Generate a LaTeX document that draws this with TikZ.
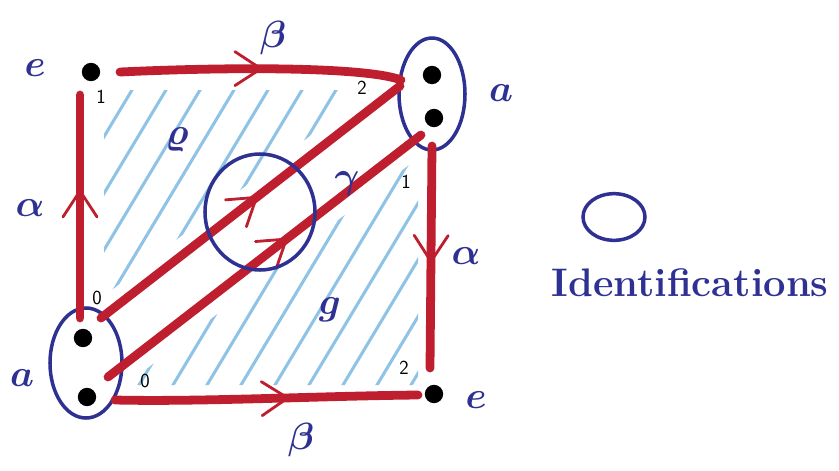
\documentclass[tikz,border=0pt]{standalone}
\usetikzlibrary{shapes.geometric,decorations.markings}
\definecolor{penred}{HTML}{BE1E2D}
\definecolor{penblue}{HTML}{2E3192}
\definecolor{hatchblue}{HTML}{8EC3E6}
\tikzset{
  redline/.style={draw=penred,line width=7.5pt,line cap=round},
  chevron/.style={decoration={markings,mark=at position #1 with {\draw[penred,line width=2.4pt,line cap=round,line join=round] (-26,17) -- (0,0) -- (-26,-17);}},postaction={decorate}},
  dotnode/.style={circle,fill=black,inner sep=0pt,minimum size=0.55cm},
  oval/.style={ellipse,draw=penblue,line width=3pt,inner sep=0pt},
  hatchline/.style={draw=hatchblue,line width=2.6pt,line cap=round},
  lab/.style={text=penblue,font=\boldmath\Huge,scale=1.3,inner sep=0pt},
  num/.style={text=black,font=\sffamily\fontsize{17}{19}\selectfont,inner sep=0pt}
}
\begin{document}
\begin{tikzpicture}[x=0.03cm,y=-0.03cm]
\useasboundingbox (0,0) rectangle (839,470);

% hatching
\begin{scope}
\clip (104,90) -- (369,90) -- (104,296) -- cycle;
\foreach \i in {-12,...,20} {\draw[hatchline] (\i*34,480) -- (\i*34+288,0);}
\end{scope}
\begin{scope}
\clip (126,385) -- (418,158) -- (418,385) -- cycle;
\foreach \i in {-12,...,20} {\draw[hatchline] (\i*34+14,480) -- (\i*34+302,0);}
\end{scope}

% vertices
\node[dotnode] (e1) at (91,72) {};
\node[dotnode] (e2) at (434,394) {};
\node[oval,minimum width=1.98cm,minimum height=3.36cm] (A1) at (432,94) {};
\node[dotnode] (a1) at (432,75) {};
\node[dotnode] (a2) at (434,118) {};
\node[oval,minimum width=2.16cm,minimum height=3.3cm] (A2) at (86,363) {};
\node[dotnode] (a3) at (83,338) {};
\node[dotnode] (a4) at (87,397) {};

% edge end points
\coordinate (bts) at (120,72);
\coordinate (bte) at (401,80);
\coordinate (als) at (80,318);
\coordinate (ale) at (80,95);
\coordinate (ars) at (432,146);
\coordinate (are) at (430,368);
\coordinate (bbs) at (115,400);
\coordinate (bbe) at (418,395);
\coordinate (d1s) at (101,318);
\coordinate (d1e) at (400,86);
\coordinate (d2s) at (108,377);
\coordinate (d2e) at (421,135);

% red edges
\draw[redline,chevron=0.5] (bts) .. controls (250,66) and (370,68) .. (bte);
\draw[redline,chevron=0.57] (als) -- (ale);
\draw[redline,chevron=0.52] (ars) -- (are);
\draw[redline,chevron=0.57] (bbs) .. controls (200,402) and (320,396) .. (bbe);
\draw[redline,chevron=0.52] (d1s) -- (d1e);
\draw[redline,chevron=0.57] (d2s) -- (d2e);

% identification circle in the middle
\node[oval,minimum width=3.3cm,minimum height=3.48cm] (C) at (260,212) {};

% labels
\node[lab] (le1) at (35,68) {$e$};
\node[lab] (le2) at (476,400) {$e$};
\node[lab] (la1) at (501,93) {$a$};
\node[lab] (la2) at (22,378) {$a$};
\node[lab] (lb1) at (273,38) {$\beta$};
\node[lab] (lb2) at (301,440) {$\beta$};
\node[lab] (lal1) at (30,208) {$\alpha$};
\node[lab] (lal2) at (466,256) {$\alpha$};
\node[lab] (lg) at (347,184) {$\gamma$};
\node[lab] (lr) at (177,140) {$\varrho$};
\node[lab] (lgg) at (330,310) {$g$};

% small numbers
\node[num] (n1) at (101,97) {1};
\node[num] (n2) at (362,88) {2};
\node[num] (n3) at (406,182) {1};
\node[num] (n4) at (97,298) {0};
\node[num] (n5) at (145,381) {0};
\node[num] (n6) at (404,368) {2};

% legend
\node[oval,minimum width=1.86cm,minimum height=1.4cm] (L) at (614,217) {};
\node[text=penblue,font=\bfseries\fontsize{34}{40}\selectfont,inner sep=0pt] (T) at (690,283) {Identifications};
\end{tikzpicture}
\end{document}
